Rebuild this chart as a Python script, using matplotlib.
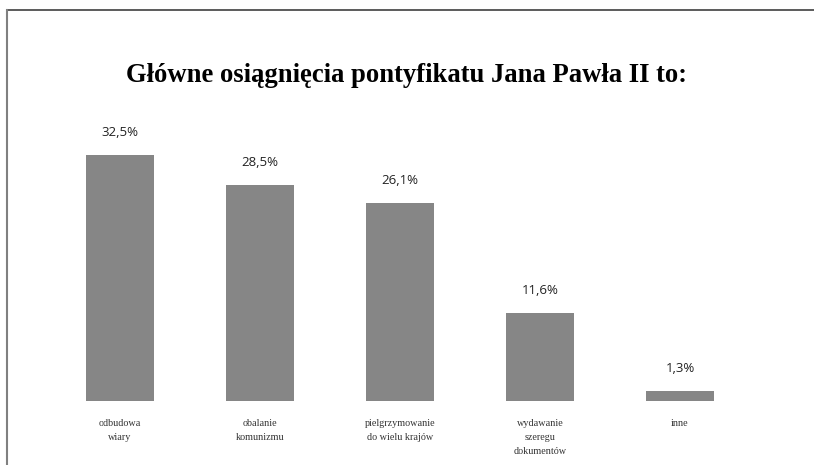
import numpy as np
import matplotlib.pyplot as plt
from matplotlib.lines import Line2D

categories = ['odbudowa\nwiary', 'obalanie\nkomunizmu', 'pielgrzymowanie\ndo wielu krajów',
              'wydawanie\nszeregu\ndokumentów', 'inne']
values = [32.5, 28.5, 26.1, 11.6, 1.3]
value_labels = ['32,5%', '28,5%', '26,1%', '11,6%', '1,3%']
title = 'Główne osiągnięcia pontyfikatu Jana Pawła II to:'

fig = plt.figure(figsize=(8.14, 4.65), dpi=100)
ax = fig.add_axes([50/814, 64/465, 700/814, 302.8/465])

x = np.arange(len(values))
bars = ax.bar(x, values, width=0.49, color='#868686')
ax.set_xlim(-0.5, 4.5)
ax.set_ylim(0, 40)
ax.axis('off')

for xi, v, lab in zip(x, values, value_labels):
    ax.annotate(lab, (xi, v), xytext=(0, 16.5), textcoords='offset points',
                ha='center', va='center', fontsize=9.5, family='Open Sans', color='#222222')

for xi, cat in zip(x, categories):
    ax.annotate(cat, (xi, 0), xytext=(0, -13), textcoords='offset points',
                ha='center', va='top', fontsize=7.3, family='Liberation Serif',
                color='#333333', linespacing=1.7)

fig.text(407/814, 1 - 75/465, title, ha='center', va='center', fontsize=19.2,
         family='Liberation Serif', weight='bold', color='black')

# ramka
fig.add_artist(Line2D([6.5/814, 1], [1 - 10/465, 1 - 10/465], color='#404040', lw=1.2, transform=fig.transFigure))
fig.add_artist(Line2D([6.5/814, 6.5/814], [0, 1 - 10/465], color='#808080', lw=1.5, transform=fig.transFigure))

fig.savefig('out.png', dpi=100)
